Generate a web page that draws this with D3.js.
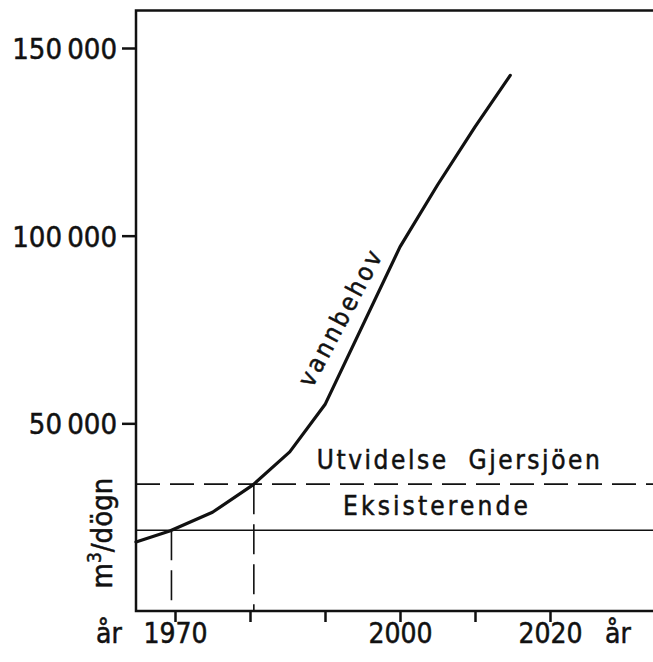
<!DOCTYPE html>
<html>
<head>
<meta charset="utf-8">
<script src="https://cdn.jsdelivr.net/npm/d3@7"></script>
<style>
  html, body { margin: 0; padding: 0; background: #fff; }
  svg { display: block; }
  text {
    font-family: "DejaVu Sans Condensed", "DejaVu Sans", sans-serif;
    fill: #111;
    stroke: #111;
    stroke-width: 0.5px;
  }
</style>
</head>
<body>
<div id="chart"></div>
<script>
// water demand curve (m3 per day)
const years = [1964.8, 1969.3, 1975, 1980.4, 1985.3, 1990, 2000, 2005, 2010, 2014.7];
const demand = [18400, 21300, 26300, 33600, 42400, 55000, 97000, 113500, 129000, 142700];

// capacity levels
const capacityNames = ['Eksisterende', 'Utvidelse  Gjersjöen'];
const capacityValues = [21500, 33800];

// ticks
const yTicks = [50000, 100000, 150000];
const xTicks = [1970, 1980, 1990, 2000, 2010, 2020];
const xLabelled = [1970, 2000, 2020];

const width = 653;
const height = 662;

const svg = d3.select('#chart').append('svg')
  .attr('width', width)
  .attr('height', height);

// scales
const x = d3.scaleLinear().domain([1970, 2020]).range([175, 550]);
const y = d3.scaleLinear().domain([0, 150000]).range([611, 48]);

const plotLeft = x(1964.8);
const plotRight = width;
const plotBottom = y(0);
const plotTop = y(160000);

// year where the demand curve reaches a given level
function yearAt(level) {
  for (let i = 1; i < demand.length; i++) {
    if (demand[i] >= level) {
      const t = (level - demand[i - 1]) / (demand[i] - demand[i - 1]);
      return years[i - 1] + t * (years[i] - years[i - 1]);
    }
  }
  return years[years.length - 1];
}

// y axis
const yAxis = svg.append('g')
  .attr('transform', `translate(${plotLeft},0)`)
  .call(d3.axisLeft(y)
    .tickValues(yTicks)
    .tickSize(14)
    .tickPadding(5)
    .tickFormat((d) => d3.format(',')(d).replace(',', '\u2009')));
yAxis.select('.domain').remove();
yAxis.selectAll('line').attr('stroke', '#111').attr('stroke-width', 2.5);
yAxis.selectAll('text')
  .attr('font-size', 29)
  .attr('dy', '0.36em')
  .style('font-family', null)
  .attr('fill', '#111');

// x axis
const xAxis = svg.append('g')
  .attr('transform', `translate(0,${plotBottom})`)
  .call(d3.axisBottom(x)
    .tickValues(xTicks)
    .tickSize(11)
    .tickPadding(4)
    .tickFormat((d) => (xLabelled.includes(d) ? d : '')));
xAxis.select('.domain').remove();
xAxis.selectAll('line').attr('stroke', '#111').attr('stroke-width', 2.5);
xAxis.selectAll('text')
  .attr('font-size', 28)
  .attr('dy', '0.6em')
  .attr('fill', '#111');

// frame: left, bottom and top lines
svg.append('path')
  .attr('d', `M${plotRight},${plotTop}H${plotLeft}V${plotBottom}H${plotRight}`)
  .attr('fill', 'none')
  .attr('stroke', '#111')
  .attr('stroke-width', 2.5);

// year unit labels
svg.append('text')
  .attr('x', plotLeft - 40)
  .attr('y', 643)
  .attr('font-size', 28)
  .text('år');
svg.append('text')
  .attr('x', x(2020) + 55)
  .attr('y', 643)
  .attr('font-size', 28)
  .text('år');

// capacity lines
capacityValues.forEach((v, i) => {
  svg.append('line')
    .attr('x1', plotLeft)
    .attr('x2', plotRight)
    .attr('y1', y(v))
    .attr('y2', y(v))
    .attr('stroke', '#111')
    .attr('stroke-width', 1.6)
    .attr('stroke-dasharray', i === 1 ? '24,10' : null);

  // dashed drop line where the demand reaches this level
  const yr = yearAt(v);
  svg.append('line')
    .attr('x1', x(yr))
    .attr('x2', x(yr))
    .attr('y1', y(v))
    .attr('y2', plotBottom)
    .attr('stroke', '#111')
    .attr('stroke-width', 1.6)
    .attr('stroke-dasharray', '30,10');
});

svg.append('text')
  .attr('x', x(1992.4))
  .attr('y', y(capacityValues[0]) - 15)
  .attr('font-size', 26)
  .attr('textLength', 185)
  .attr('lengthAdjust', 'spacing')
  .text(capacityNames[0]);
svg.append('text')
  .attr('x', x(1988.9))
  .attr('y', y(capacityValues[1]) - 15)
  .attr('font-size', 26)
  .attr('textLength', 283)
  .attr('lengthAdjust', 'spacing')
  .style('white-space', 'pre')
  .text(capacityNames[1]);

// demand curve
const line = d3.line()
  .x((d) => x(d[0]))
  .y((d) => y(d[1]));
svg.append('path')
  .datum(years.map((yr, i) => [yr, demand[i]]))
  .attr('d', line)
  .attr('fill', 'none')
  .attr('stroke', '#111')
  .attr('stroke-width', 3.2)
  .attr('stroke-linejoin', 'round')
  .attr('stroke-linecap', 'round');

svg.append('text')
  .attr('transform', `translate(${x(1988.3)},${y(59200)}) rotate(-62)`)
  .attr('font-size', 25)
  .attr('textLength', 150)
  .attr('lengthAdjust', 'spacing')
  .text('vannbehov');

// unit label on the y axis
const unit = svg.append('text')
  .attr('transform', `translate(112,${y(6000)}) rotate(-90)`)
  .attr('font-size', 29);
unit.append('tspan').text('m');
unit.append('tspan').attr('dy', -11).attr('font-size', 19).text('3');
unit.append('tspan').attr('dy', 11).text('/dögn');
</script>
</body>
</html>
